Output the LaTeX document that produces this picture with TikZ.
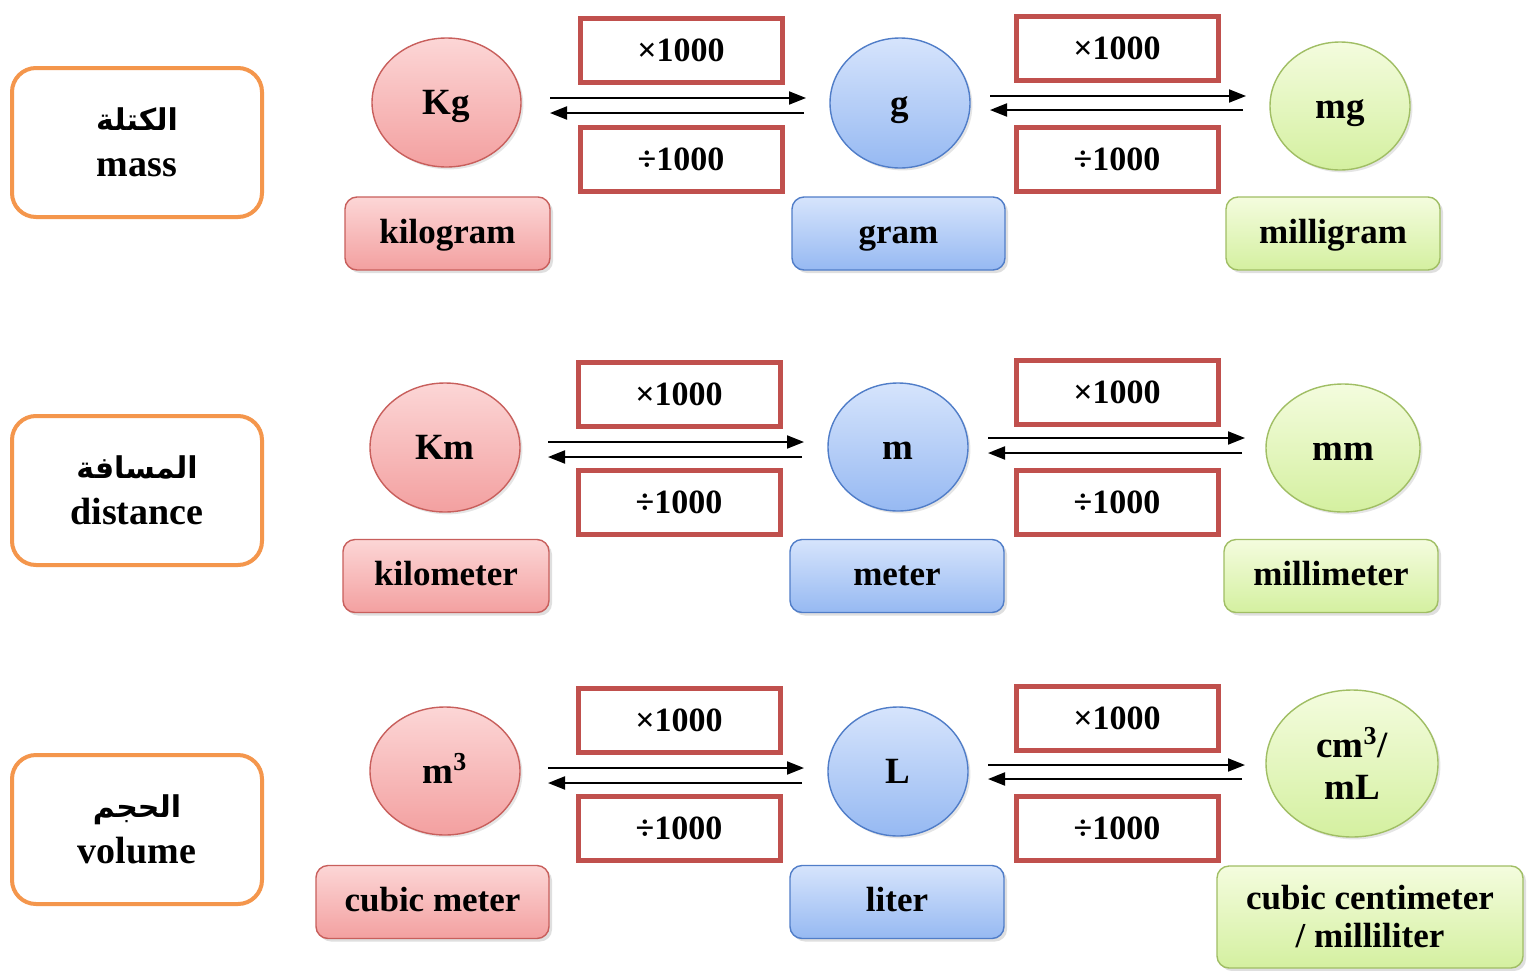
\documentclass[tikz,border=0pt]{standalone}
\usepackage{fontspec}
\setmainfont{Liberation Serif}
\newfontfamily\arabicfont[Script=Arabic]{DejaVu Sans}
\TeXXeTstate=1
\usetikzlibrary{arrows.meta,shadows,shapes.geometric}
\definecolor{catorange}{RGB}{244,150,76}
\definecolor{boxred}{RGB}{192,80,77}
\definecolor{pinkborder}{RGB}{200,95,92}
\definecolor{pinktop}{RGB}{252,214,214}
\definecolor{pinkbot}{RGB}{243,160,160}
\definecolor{blueborder}{RGB}{80,125,200}
\definecolor{bluetop}{RGB}{214,228,252}
\definecolor{bluebot}{RGB}{150,185,242}
\definecolor{greenborder}{RGB}{160,190,100}
\definecolor{greentop}{RGB}{244,252,222}
\definecolor{greenbot}{RGB}{212,240,160}
\tikzset{
  cat/.style={draw=catorange, line width=2pt, rounded corners=12pt, fill=white,
    minimum width=125pt, minimum height=74.5pt, align=center, inner sep=0pt,
    font=\bfseries\fontsize{19}{22}\selectfont},
  mulbox/.style={draw=boxred, line width=2.5pt, fill=white, inner sep=0pt,
    minimum width=101pt, minimum height=32pt, font=\bfseries\fontsize{17}{20}\selectfont},
  unit/.style={ellipse, draw=#1border, line width=0.7pt, top color=#1top, bottom color=#1bot,
    inner sep=0pt, align=center, font=\bfseries\fontsize{18.5}{21}\selectfont,
    text height=12.2pt, text depth=0pt,
    drop shadow={opacity=0.2, shadow xshift=1.2pt, shadow yshift=-1.2pt}},
  lab/.style={draw=#1border, line width=0.7pt, rounded corners=6pt, top color=#1top, bottom color=#1bot,
    inner sep=0pt, align=center, minimum height=36.5pt, font=\bfseries\fontsize{17.5}{19}\selectfont,
    text height=11.5pt, text depth=1.8pt,
    drop shadow={opacity=0.25, shadow xshift=1.5pt, shadow yshift=-1.5pt}},
  conv/.style={line width=1pt, -{Triangle[length=8.5pt,width=6.5pt]}},
}
\newcommand{\ar}[1]{{\arabicfont\fontsize{15}{18}\selectfont\bfseries\beginR #1\endR}}
\begin{document}
\begin{tikzpicture}[x=0.5pt,y=-0.5pt]
\fill[white] (0,0) rectangle (1527,970);
\useasboundingbox (0,0) rectangle (1527,970);

% ---------- row 1: mass ----------
\node[cat] (cat1) at (137,142.5) {\ar{الكتلة}\\[1pt] mass};
\node[unit=pink, minimum width=74.5pt, minimum height=64.5pt] (kg) at (446.5,102.5) {Kg};
\node[lab=pink, minimum width=102.5pt] (kilogram) at (447.5,233.5) {kilogram};
\node[mulbox] (m1a) at (681,50) {×1000};
\node[mulbox] (d1a) at (681,159) {÷1000};
\node[unit=blue, minimum width=70pt, minimum height=65pt] (g) at (900,103) {g};
\node[lab=blue, minimum width=106.5pt] (gram) at (898.5,233.5) {gram};
\node[mulbox] (m1b) at (1117,48) {×1000};
\node[mulbox] (d1b) at (1117,159) {÷1000};
\node[unit=green, minimum width=70pt, minimum height=64pt] (mg) at (1340,106) {mg};
\node[lab=green, minimum width=107pt] (milligram) at (1333,233.5) {milligram};

\coordinate (r1aL) at (550,98);  \coordinate (r1aR) at (806,98);
\coordinate (l1aR) at (804,113); \coordinate (l1aL) at (550,113);
\coordinate (r1bL) at (990,96);  \coordinate (r1bR) at (1246,96);
\coordinate (l1bR) at (1243,110);\coordinate (l1bL) at (990,110);
\draw[conv] (r1aL) -- (r1aR);
\draw[conv] (l1aR) -- (l1aL);
\draw[conv] (r1bL) -- (r1bR);
\draw[conv] (l1bR) -- (l1bL);

% ---------- row 2: distance ----------
\node[cat] (cat2) at (137,490.5) {\ar{المسافة}\\[1pt] distance};
\node[unit=pink, minimum width=75pt, minimum height=64.5pt] (km) at (445,447.5) {Km};
\node[lab=pink, minimum width=103pt] (kilometer) at (446,576) {kilometer};
\node[mulbox] (m2a) at (679,394) {×1000};
\node[mulbox] (d2a) at (679,502) {÷1000};
\node[unit=blue, minimum width=70pt, minimum height=64pt] (m) at (898,447) {m};
\node[lab=blue, minimum width=107pt] (meter) at (897,576) {meter};
\node[mulbox] (m2b) at (1117,392) {×1000};
\node[mulbox] (d2b) at (1117,502) {÷1000};
\node[unit=green, minimum width=77pt, minimum height=64pt] (mm) at (1343,448) {mm};
\node[lab=green, minimum width=107pt] (millimeter) at (1331,576) {millimeter};

\coordinate (r2aL) at (548,442);  \coordinate (r2aR) at (804,442);
\coordinate (l2aR) at (802,457);  \coordinate (l2aL) at (548,457);
\coordinate (r2bL) at (988,438);  \coordinate (r2bR) at (1245,438);
\coordinate (l2bR) at (1242,453); \coordinate (l2bL) at (988,453);
\draw[conv] (r2aL) -- (r2aR);
\draw[conv] (l2aR) -- (l2aL);
\draw[conv] (r2bL) -- (r2bR);
\draw[conv] (l2bR) -- (l2bL);

% ---------- row 3: volume ----------
\node[cat] (cat3) at (137,829.5) {\ar{الحجم}\\[1pt] volume};
\node[unit=pink, minimum width=75pt, minimum height=64pt] (m3) at (445,771) {m\textsuperscript{3}};
\node[lab=pink, minimum width=116.5pt] (cubicmeter) at (432.5,902) {cubic meter};
\node[mulbox] (m3a) at (679,720) {×1000};
\node[mulbox] (d3a) at (679,828) {÷1000};
\node[unit=blue, minimum width=70pt, minimum height=64.5pt] (L) at (898,771.5) {L};
\node[lab=blue, minimum width=107pt] (liter) at (897,902) {liter};
\node[mulbox] (m3b) at (1117,718) {×1000};
\node[mulbox] (d3b) at (1117,828) {÷1000};
\node[unit=green, minimum width=86pt, minimum height=73.5pt, text height=, text depth=] (cm) at (1352,763.5) {cm\textsuperscript{3}/\\mL};
\node[lab=green, minimum width=153pt, minimum height=51pt, text height=, text depth=] (cc) at (1370,917) {cubic centimeter\\/ milliliter};

\coordinate (r3aL) at (548,768);  \coordinate (r3aR) at (804,768);
\coordinate (l3aR) at (802,783);  \coordinate (l3aL) at (548,783);
\coordinate (r3bL) at (988,765);  \coordinate (r3bR) at (1245,765);
\coordinate (l3bR) at (1242,779); \coordinate (l3bL) at (988,779);
\draw[conv] (r3aL) -- (r3aR);
\draw[conv] (l3aR) -- (l3aL);
\draw[conv] (r3bL) -- (r3bR);
\draw[conv] (l3bR) -- (l3bL);
\end{tikzpicture}
\end{document}
